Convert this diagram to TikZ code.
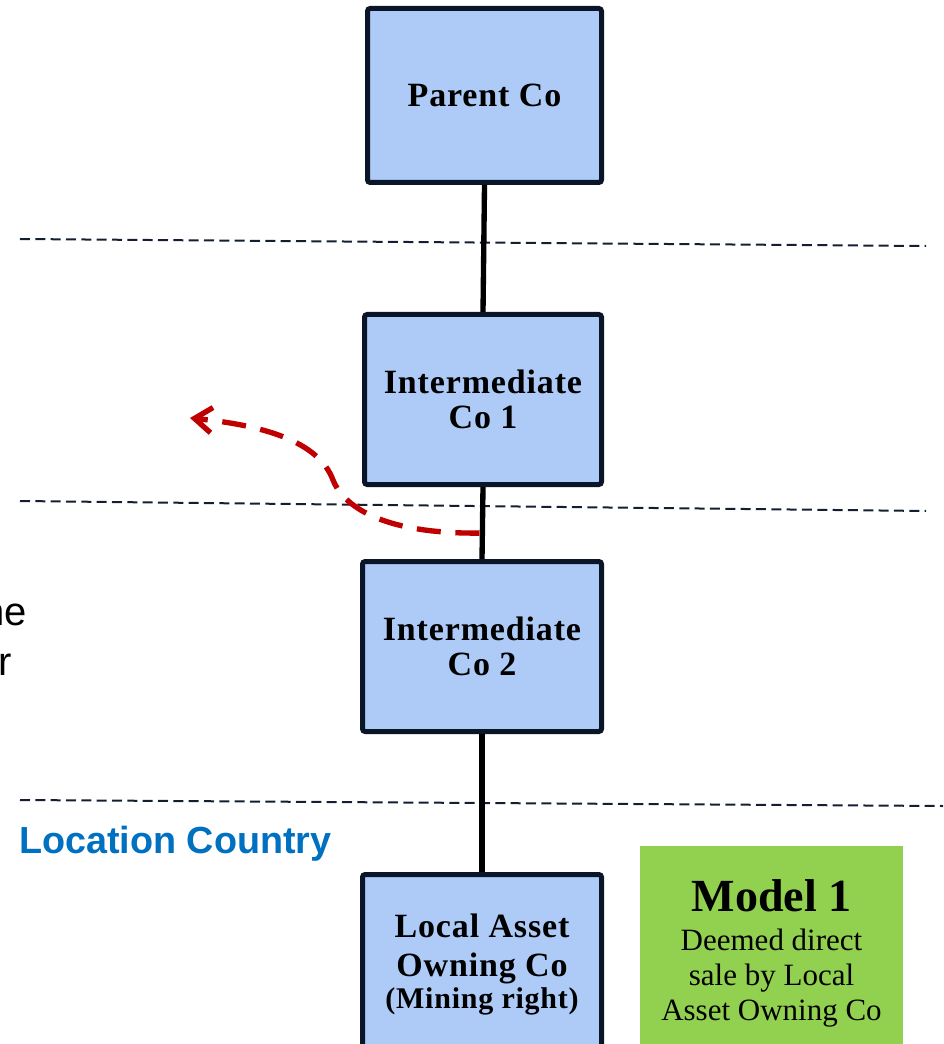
\documentclass[tikz,border=0pt]{standalone}
\usepackage{fontspec}
\setmainfont{Liberation Serif}
\newfontfamily\sansf{Liberation Sans}
\newfontfamily\boxfont[LetterSpace=2.5]{Liberation Serif}
\usetikzlibrary{arrows.meta,calc}
\definecolor{boxfill}{RGB}{173,203,246}
\definecolor{boxline}{RGB}{10,22,40}
\definecolor{sepline}{RGB}{20,30,50}
\definecolor{arrowred}{RGB}{192,0,0}
\definecolor{modelgreen}{RGB}{146,208,80}
\definecolor{locblue}{RGB}{0,112,192}
\begin{document}
\begin{tikzpicture}[x=0.75pt,y=-0.75pt,
  cobox/.style={draw=boxline, line width=3.75pt, fill=boxfill, rounded corners=2pt,
    inner sep=0pt, align=center, font=\boxfont\fontsize{25.5}{26.6}\selectfont\bfseries},
  link/.style={draw=black, line width=4pt},
  sep/.style={draw=sepline, line width=1.5pt, dash pattern=on 7.5pt off 4pt},
  redarrow/.style={draw=arrowred, line width=4pt, dash pattern=on 18pt off 11pt,
    -{Straight Barb[length=13pt,width=19pt]}},
  greenbox/.style={fill=modelgreen, inner sep=0pt, align=center,
    font=\fontsize{23.25}{26.25}\selectfont},
]
\useasboundingbox (0,0) rectangle (943,1044);
\clip (0,0) rectangle (943,1044);

% separators
\draw[sep] (20,239) -- (926,246);
\draw[sep] (20,501) -- (926,511);
\draw[sep] (20,800) -- (943,806);

% side text, cut off by the left edge as in the original
\node[font=\sansf\fontsize{30}{32}\selectfont, anchor=base east, inner sep=0pt] (ne) at (27,625) {ne};
\node[font=\sansf\fontsize{30}{32}\selectfont, anchor=base east, inner sep=0pt] (rr) at (12,675) {r};

\node[font=\sansf\bfseries\fontsize{28.3}{30}\selectfont, text=locblue, anchor=base west, inner sep=0pt] (loc) at (19,853) {Location Country};

% boxes
\node[cobox, minimum width=175.5pt, minimum height=130.5pt] (p) at (484.5,95.5) {Parent Co};
\node[cobox, minimum width=177.75pt, minimum height=127.5pt] (i1) at (483,399.5) {Intermediate\\Co 1};
\node[cobox, minimum width=179.25pt, minimum height=127.5pt] (i2) at (482,646.5) {Intermediate\\Co 2};
\node[cobox, minimum width=179.25pt, minimum height=135pt, font=\boxfont\fontsize{25.5}{29.25}\selectfont\bfseries] (la) at (482,964.5)
  {Local Asset\\Owning Co\\[-5pt]{\fontsize{22.5}{24}\selectfont (Mining right)}};

% connectors
\draw[link] (p.south) -- (i1.north);
\draw[link] (i1.south) -- (i2.north);
\draw[link] (i2.south) -- (la.north);

% model box
\node[greenbox, minimum width=197.25pt, minimum height=161.25pt] (m) at (771.5,953.5)
  {{\fontsize{34.5}{36}\selectfont\bfseries Model 1}\\[3pt]Deemed direct\\sale by Local\\Asset Owning Co};

% red dashed arrow
\coordinate (rs) at ($(i1.south)!0.64!(i2.north)+(-3,0)$);
\coordinate (tip) at (190,418);
\draw[redarrow] (rs) .. controls (390,534) and (345,510) .. (333,480)
  .. controls (318,440) and (260,425) .. (tip);
\end{tikzpicture}
\end{document}
